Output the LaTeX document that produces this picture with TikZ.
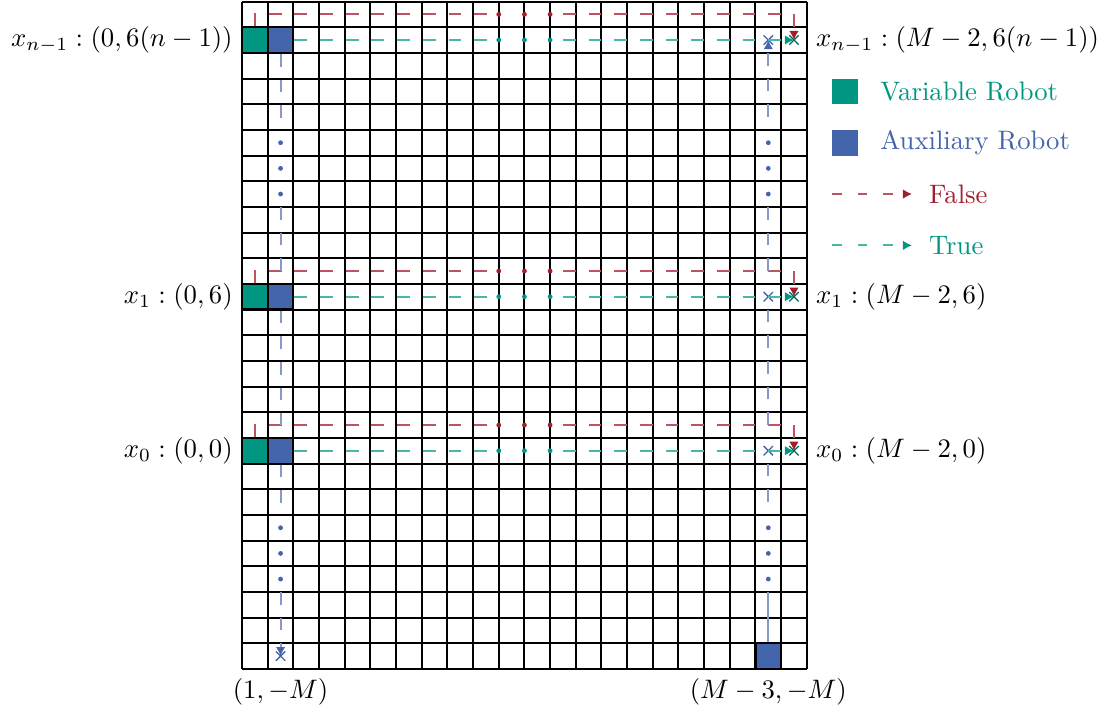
\documentclass[tikz,border=0pt]{standalone}
\usetikzlibrary{arrows.meta,shapes.misc}
\definecolor{varcol}{RGB}{0,150,130}
\definecolor{auxcol}{RGB}{68,100,172}
\definecolor{falsecol}{RGB}{162,30,45}

\begin{document}
\begin{tikzpicture}[x=0.338cm, y=0.338cm,
    gridline/.style={line width=0.75pt},
    robot/.style={draw=black, line width=0.8pt, minimum size=0.338cm, inner sep=0pt},
    legendbox/.style={minimum size=0.338cm, inner sep=0pt},
    halfdash/.style={line width=0.8pt, dash pattern=on 0.169cm off 0.169cm},
    falseline/.style={halfdash, falsecol!75},
    trueline/.style={halfdash, varcol!70},
    auxline/.style={halfdash, auxcol!65},
    ftip/.style={-{Latex[length=3.4pt,width=3.6pt,color=falsecol]}},
    ttip/.style={-{Latex[length=3.4pt,width=3.6pt,color=varcol]}},
    atip/.style={-{Latex[length=3.4pt,width=3.6pt,color=auxcol]}},
    endmark/.style={cross out, draw, line width=0.5pt, minimum size=3pt, inner sep=0pt},
    dot/.style={circle, minimum size=1.8pt, inner sep=0pt}]
    \useasboundingbox (-9.43,-1.40) rectangle (33.85,26.06);
    \draw[gridline, step=0.338cm] (0,0) grid (22,26);
    % robots
    \node[robot, fill=varcol] (va) at (0.5,8.5) {};
    \node[robot, fill=auxcol] (aa) at (1.5,8.5) {};
    \node[robot, fill=varcol] (vb) at (0.5,14.5) {};
    \node[robot, fill=auxcol] (ab) at (1.5,14.5) {};
    \node[robot, fill=varcol] (vc) at (0.5,24.5) {};
    \node[robot, fill=auxcol] (ac) at (1.5,24.5) {};
    \node[robot, fill=auxcol] (ad) at (20.5,0.5) {};
    % end marks
    \node[endmark, draw=auxcol] (ea) at (20.5,8.5) {};
    \node[endmark, draw=auxcol] (eb) at (20.5,14.5) {};
    \node[endmark, draw=auxcol] (ec) at (20.5,24.5) {};
    \node[endmark, draw=auxcol] (ed) at (1.5,0.5) {};
    \node[endmark, draw=varcol!70!black] (ta) at (21.5,8.5) {};
    \node[endmark, draw=varcol!70!black] (tb) at (21.5,14.5) {};
    \node[endmark, draw=varcol!70!black] (tc) at (21.5,24.5) {};
    % false paths
    \draw[falseline] (va.north) -- (0.5,9.5) -- (10,9.5);
    \draw[falseline, ftip] (12.5,9.5) -- (21.5,9.5) -- (ta.center);
    \draw[falseline] (vb.north) -- (0.5,15.5) -- (10,15.5);
    \draw[falseline, ftip] (12.5,15.5) -- (21.5,15.5) -- (tb.center);
    \draw[falseline] (vc.north) -- (0.5,25.5) -- (10,25.5);
    \draw[falseline, ftip] (12.5,25.5) -- (21.5,25.5) -- (tc.center);
    % true paths
    \draw[trueline] (aa.east) -- (10,8.5);
    \draw[trueline, ttip] (12.5,8.5) -- (ta.center);
    \draw[trueline] (ab.east) -- (10,14.5);
    \draw[trueline, ttip] (12.5,14.5) -- (tb.center);
    \draw[trueline] (ac.east) -- (10,24.5);
    \draw[trueline, ttip] (12.5,24.5) -- (tc.center);
    \foreach \yy in {9.5,15.5,25.5}
        \foreach \xx in {10,11,12}
            \node[dot, fill=falsecol] at (\xx,\yy) {};
    \foreach \yy in {8.5,14.5,24.5}
        \foreach \xx in {10,11,12}
            \node[dot, fill=varcol] at (\xx,\yy) {};
    % auxiliary robot, left column
    \draw[auxline] (ac.south) -- (1.5,21);
    \draw[auxline] (1.5,18) -- (1.5,15.5);
    \draw[auxline] (ab.south) -- (1.5,9.5);
    \draw[auxline] (aa.south) -- (1.5,6);
    \draw[auxline, atip] (1.5,3) -- (ed.center);
    % auxiliary robot, right column
    \draw[auxline, solid] (ad.north) -- (20.5,3);
    \draw[auxline] (20.5,6.5) -- (20.5,8);
    \draw[auxline] (20.5,9.5) -- (20.5,14);
    \draw[auxline] (20.5,15.5) -- (20.5,18);
    \draw[auxline, atip] (20.5,21.5) -- (ec.center);
    \foreach \yy in {3.5,4.5,5.5,18.5,19.5,20.5}
        \foreach \xx in {1.5,20.5}
            \node[dot, fill=auxcol] at (\xx,\yy) {};
    % labels
    \node[anchor=east] (la) at (0,8.5) {$x_0:(0,0)$};
    \node[anchor=east] (lb) at (0,14.5) {$x_1:(0,6)$};
    \node[anchor=east] (lc) at (0,24.5) {$x_{n-1}:(0,6(n-1))$};
    \node[anchor=west] (ra) at (22,8.5) {$x_0:(M-2,0)$};
    \node[anchor=west] (rb) at (22,14.5) {$x_1:(M-2,6)$};
    \node[anchor=west] (rc) at (22,24.5) {$x_{n-1}:(M-2,6(n-1))$};
    \node[anchor=north] (bl) at (1.5,0) {$(1,-M)$};
    \node[anchor=north] (br) at (20.5,0) {$(M-3,-M)$};
    % legend
    \node[legendbox, fill=varcol] (lgv) at (23.5,22.5) {};
    \node[anchor=west, text=varcol] (lgvt) at (24.5,22.5) {Variable Robot};
    \node[legendbox, fill=auxcol] (lga) at (23.5,20.5) {};
    \node[anchor=west, text=auxcol] (lgat) at (24.5,20.5) {Auxiliary Robot};
    \coordinate (lgf) at (23,18.5);
    \coordinate (lgfe) at (26.1,18.5);
    \draw[falsecol!75, line width=0.8pt, dash pattern=on 3.5pt off 6pt, ftip] (lgf) -- (lgfe);
    \node[anchor=west, text=falsecol] (lgft) at (26.4,18.5) {False};
    \coordinate (lgt) at (23,16.5);
    \coordinate (lgte) at (26.1,16.5);
    \draw[varcol!70, line width=0.8pt, dash pattern=on 3.5pt off 6pt, ttip] (lgt) -- (lgte);
    \node[anchor=west, text=varcol] (lgtt) at (26.4,16.5) {True};
\end{tikzpicture}
\end{document}
